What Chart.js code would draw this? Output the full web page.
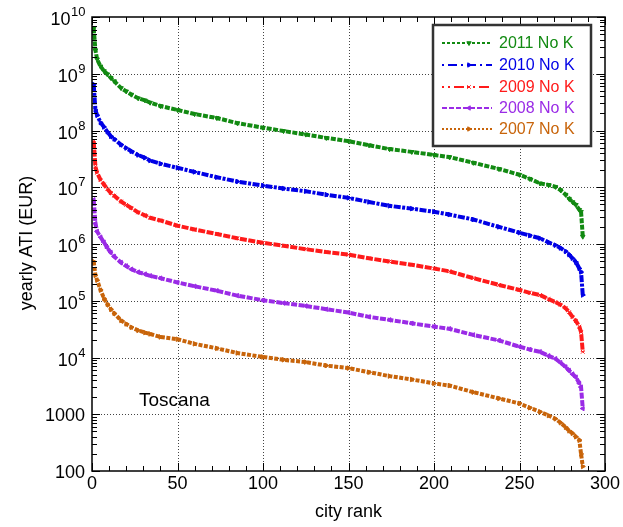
<!DOCTYPE html>
<html>
<head>
<meta charset="utf-8">
<title>Toscana - yearly ATI by city rank</title>
<script src="https://cdn.jsdelivr.net/npm/chart.js@4.4.1/dist/chart.umd.min.js"></script>
<style>
  html, body { margin: 0; padding: 0; background: #fff; }
  #wrap { width: 623px; height: 527px; }
</style>
</head>
<body>
<div id="wrap"><canvas id="atiChart" width="623" height="527"></canvas></div>
<script>
// city rank positions where the curves are sampled
var ranks = [1, 2, 3, 5, 7, 9, 11, 13, 17, 20, 23, 27, 31, 34, 40, 50, 60, 73, 85, 100,
             112, 125, 137, 150, 162, 174, 187, 200, 209, 223, 238, 250, 256, 262, 267, 271,
             274, 277, 279, 281, 283, 285, 286, 287];

// yearly ATI (EUR), each year shifted one decade from the next for readability
var ati2011 = [6.3e9, 2.6e9, 1.8e9, 1.35e9, 1.12e9, 9.8e8, 8.5e8, 7.4e8, 5.6e8, 4.9e8, 4.3e8, 3.7e8, 3.4e8, 3.1e8, 2.7e8,
               2.3e8, 1.95e8, 1.66e8, 1.35e8, 1.12e8, 9.8e7, 8.5e7, 7.4e7, 6.5e7, 5.5e7, 4.7e7, 4.2e7, 3.7e7, 3.4e7,
               2.7e7, 2.1e7, 1.66e7, 1.41e7, 1.17e7, 1.1e7, 1.02e7, 8.9e6, 7.4e6, 6.3e6, 5.5e6, 4.9e6, 4.0e6, 3.7e6, 1.35e6];
var ati2010 = [6.5e8, 2.3e8, 1.86e8, 1.38e8, 1.15e8, 9.5e7, 7.9e7, 7.1e7, 5.6e7, 4.9e7, 4.3e7, 3.7e7, 3.3e7, 2.95e7, 2.6e7,
               2.2e7, 1.86e7, 1.5e7, 1.26e7, 1.07e7, 9.5e6, 8.5e6, 7.4e6, 6.5e6, 5.5e6, 4.7e6, 4.2e6, 3.7e6, 3.3e6,
               2.7e6, 2.0e6, 1.58e6, 1.41e6, 1.26e6, 1.07e6, 9.5e5, 8.5e5, 7.4e5, 6.5e5, 5.6e5, 4.8e5, 3.7e5, 3.2e5, 1.26e5];
var ati2009 = [6.5e7, 2.3e7, 1.8e7, 1.35e7, 1.12e7, 9.3e6, 7.9e6, 7.1e6, 5.6e6, 4.9e6, 4.3e6, 3.6e6, 3.2e6, 2.9e6, 2.6e6,
               2.1e6, 1.8e6, 1.5e6, 1.26e6, 1.05e6, 9.3e5, 8.1e5, 7.2e5, 6.5e5, 5.6e5, 4.9e5, 4.3e5, 3.7e5, 3.3e5,
               2.5e5, 1.9e5, 1.55e5, 1.38e5, 1.26e5, 1.07e5, 9.5e4, 8.5e4, 7.4e4, 6.3e4, 5.2e4, 4.4e4, 3.5e4, 2.8e4, 1.26e4];
var ati2008 = [6.0e6, 2.3e6, 1.66e6, 1.32e6, 1.07e6, 8.5e5, 7.1e5, 6.0e5, 4.7e5, 4.1e5, 3.6e5, 3.2e5, 2.95e5, 2.75e5, 2.5e5,
               2.1e5, 1.8e5, 1.5e5, 1.23e5, 1.02e5, 9.1e4, 8.1e4, 7.1e4, 6.2e4, 5.2e4, 4.6e4, 4.0e4, 3.5e4, 3.2e4,
               2.5e4, 2.0e4, 1.55e4, 1.38e4, 1.26e4, 1.07e4, 9.5e3, 8.1e3, 6.8e3, 5.9e3, 5.1e3, 4.5e3, 3.5e3, 3.0e3, 1.26e3];
var ati2007 = [4.9e5, 2.8e5, 2.3e5, 1.55e5, 1.1e5, 8.7e4, 7.1e4, 6.0e4, 4.5e4, 3.9e4, 3.4e4, 3.0e4, 2.75e4, 2.6e4, 2.3e4,
               2.1e4, 1.74e4, 1.45e4, 1.2e4, 1.02e4, 9.1e3, 8.3e3, 7.2e3, 6.5e3, 5.5e3, 4.7e3, 4.1e3, 3.5e3, 3.2e3,
               2.45e3, 1.9e3, 1.55e3, 1.3e3, 1.1e3, 950, 830, 710, 590, 510, 460, 400, 350, 200, 120];

var seriesNames = ['2011 No K', '2010 No K', '2009 No K', '2008 No K', '2007 No K'];
var xTicks = [0, 50, 100, 150, 200, 250, 300];
var yExponents = [2, 3, 4, 5, 6, 7, 8, 9, 10];

function toPoints(values) {
    return ranks.map(function(r, i) { return { x: r, y: values[i] }; });
}

// plotDash is for the thick curves, keyDash for the thin legend sample
function makeSeries(label, values, color, plotDash, keyDash, marker, rot) {
    return {
        label: label,
        data: toPoints(values),
        borderColor: color,
        backgroundColor: color,
        borderWidth: 4,
        borderDash: plotDash,
        keyDash: keyDash,
        pointStyle: marker,
        rotation: rot,
        pointRadius: 2.6,
        pointBorderWidth: 1,
        tension: 0,
        fill: false
    };
}

var datasets = [
    makeSeries(seriesNames[0], ati2011, '#128a12', [5, 1.5], [3, 2], 'triangle', 180),
    makeSeries(seriesNames[1], ati2010, '#0000e6', [7, 1.5, 3, 1.5], [2, 4, 9, 4], 'triangle', 90),
    makeSeries(seriesNames[2], ati2009, '#ff1a1a', [7, 1.5], [2, 4, 2, 4, 10, 3], 'crossRot', 0),
    makeSeries(seriesNames[3], ati2008, '#9a2be6', [6, 1.5], [5, 2], 'triangle', 270),
    makeSeries(seriesNames[4], ati2007, '#c8640a', [4, 1.5], [2, 2], 'triangle', 90)
];

var FONT = '"Liberation Sans", Arial, Helvetica, sans-serif';

// grid, frame, ticks, labels and legend drawn by hand, matlab-like look
var framePlugin = {
    id: 'framePlugin',
    beforeDatasetsDraw: function(chart) {
        var ctx = chart.ctx, a = chart.chartArea;
        var xs = chart.scales.x, ys = chart.scales.y;
        ctx.save();
        ctx.strokeStyle = '#444';
        ctx.lineWidth = 1;
        ctx.setLineDash([1, 2]);
        xTicks.slice(1, -1).forEach(function(v) {
            var px = Math.round(xs.getPixelForValue(v)) + 0.5;
            ctx.beginPath(); ctx.moveTo(px, a.top); ctx.lineTo(px, a.bottom); ctx.stroke();
        });
        yExponents.slice(1, -1).forEach(function(e) {
            var py = Math.round(ys.getPixelForValue(Math.pow(10, e))) + 0.5;
            ctx.beginPath(); ctx.moveTo(a.left, py); ctx.lineTo(a.right, py); ctx.stroke();
        });
        ctx.restore();
    },
    afterDatasetsDraw: function(chart) {
        var ctx = chart.ctx, a = chart.chartArea;
        var xs = chart.scales.x, ys = chart.scales.y;
        ctx.save();
        ctx.setLineDash([]);
        ctx.strokeStyle = '#000';
        ctx.lineWidth = 1.5;
        ctx.strokeRect(a.left, a.top, a.right - a.left, a.bottom - a.top);

        // inward ticks
        ctx.lineWidth = 1;
        ctx.beginPath();
        for (var v = 0; v <= 300; v += 10) {
            var px = Math.round(xs.getPixelForValue(v)) + 0.5;
            var len = (v % 50 === 0) ? 8 : 5;
            ctx.moveTo(px, a.bottom); ctx.lineTo(px, a.bottom - len);
            ctx.moveTo(px, a.top); ctx.lineTo(px, a.top + len);
        }
        for (var e = 2; e <= 10; e++) {
            for (var k = 1; k <= 9; k++) {
                if (e === 10 && k > 1) break;
                var py = Math.round(ys.getPixelForValue(k * Math.pow(10, e))) + 0.5;
                var l = (k === 1) ? 8 : 5;
                ctx.moveTo(a.left, py); ctx.lineTo(a.left + l, py);
                ctx.moveTo(a.right, py); ctx.lineTo(a.right - l, py);
            }
        }
        ctx.stroke();

        // x tick labels
        ctx.fillStyle = '#000';
        ctx.font = '18px ' + FONT;
        ctx.textAlign = 'center';
        ctx.textBaseline = 'top';
        xTicks.forEach(function(v) {
            ctx.fillText(String(v), xs.getPixelForValue(v), a.bottom + 4);
        });

        // y tick labels, powers of ten with raised exponent
        ctx.textAlign = 'left';
        ctx.textBaseline = 'alphabetic';
        yExponents.forEach(function(e) {
            var py = ys.getPixelForValue(Math.pow(10, e));
            var right = a.left - 7;
            if (e < 4) {
                var txt = String(Math.pow(10, e));
                ctx.font = '18px ' + FONT;
                var w = ctx.measureText(txt).width;
                ctx.fillText(txt, right - w, py + 6.5);
            } else {
                ctx.font = '18px ' + FONT;
                var wb = ctx.measureText('10').width;
                ctx.font = '13px ' + FONT;
                var we = ctx.measureText(String(e)).width;
                var x0 = right - wb - we;
                ctx.font = '18px ' + FONT;
                ctx.fillText('10', x0, py + 8);
                ctx.font = '13px ' + FONT;
                ctx.fillText(String(e), x0 + wb + 0.5, py - 1);
            }
        });

        // axis titles
        ctx.font = '18px ' + FONT;
        ctx.textAlign = 'center';
        ctx.textBaseline = 'middle';
        ctx.fillText('city rank', (a.left + a.right) / 2, 512);
        ctx.save();
        ctx.translate(27, 243);
        ctx.rotate(-Math.PI / 2);
        ctx.fillText('yearly ATI (EUR)', 0, 0);
        ctx.restore();

        // region name
        ctx.font = '19px ' + FONT;
        ctx.textAlign = 'left';
        ctx.fillText('Toscana', 139, 401);

        // legend box
        var bx = 433, by = 25, bw = 158, bh = 121;
        ctx.fillStyle = '#fff';
        ctx.fillRect(bx, by, bw, bh);
        ctx.lineWidth = 2.5;
        ctx.strokeStyle = '#333';
        ctx.strokeRect(bx, by, bw, bh);
        var rowY = [43, 65, 87, 108, 129];
        chart.data.datasets.forEach(function(ds, i) {
            var y = rowY[i];
            ctx.save();
            ctx.strokeStyle = ds.borderColor;
            ctx.fillStyle = ds.borderColor;
            ctx.lineWidth = 2;
            ctx.setLineDash(ds.keyDash);
            ctx.beginPath(); ctx.moveTo(442, y); ctx.lineTo(492, y); ctx.stroke();
            ctx.setLineDash([]);
            ctx.lineWidth = 1;
            Chart.helpers.drawPoint(ctx, {
                pointStyle: ds.pointStyle, rotation: ds.rotation, radius: 2.5, borderWidth: 1
            }, 469, y);
            ctx.font = '16px ' + FONT;
            ctx.textAlign = 'left';
            ctx.textBaseline = 'middle';
            ctx.fillText(ds.label, 499, y + 1);
            ctx.restore();
        });
        ctx.restore();
    }
};

new Chart(document.getElementById('atiChart').getContext('2d'), {
    type: 'line',
    data: { datasets: datasets },
    options: {
        responsive: false,
        animation: false,
        events: [],
        layout: { padding: { left: 92, right: 18, top: 17, bottom: 56 } },
        plugins: { legend: { display: false }, tooltip: { enabled: false } },
        scales: {
            x: { type: 'linear', min: 0, max: 300, display: false },
            y: { type: 'logarithmic', min: 100, max: 1e10, display: false }
        }
    },
    plugins: [framePlugin]
});
</script>
</body>
</html>
